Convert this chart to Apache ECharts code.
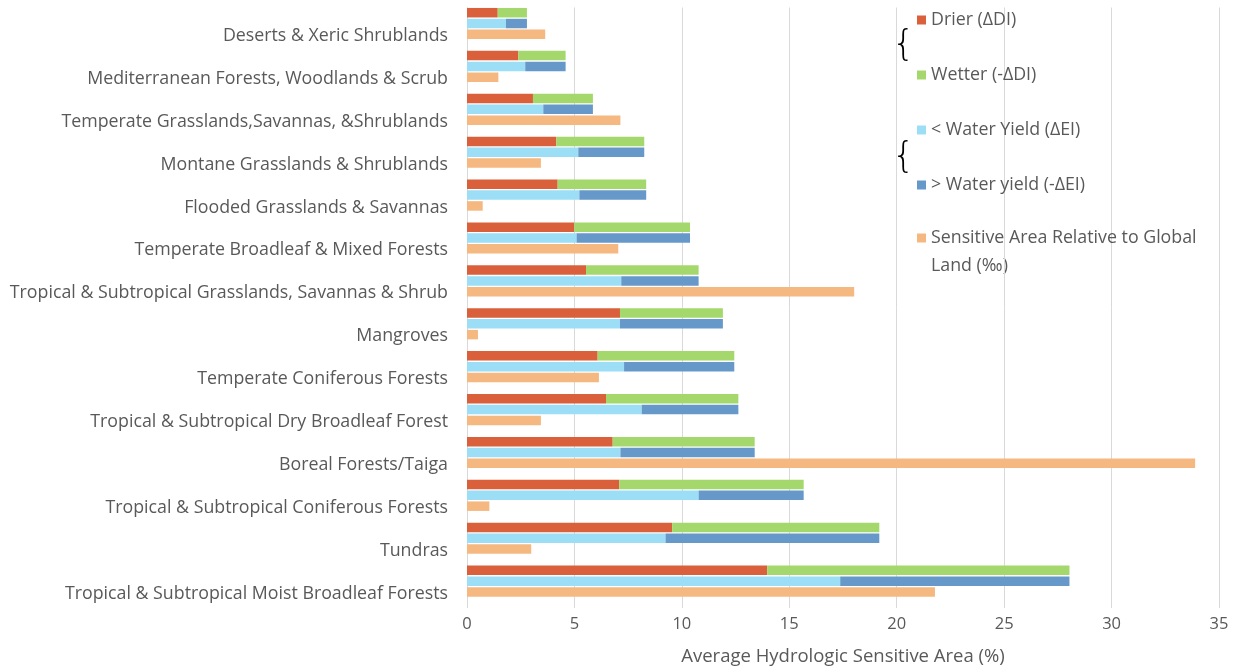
<!DOCTYPE html>
<html>
<head>
<meta charset="utf-8">
<script src="https://cdn.jsdelivr.net/npm/echarts@6/dist/echarts.min.js"></script>
<style>
html,body{margin:0;padding:0;background:#fff;}
#chart{width:1238px;height:671px;}
</style>
</head>
<body>
<div id="chart"></div>
<script>
const categories = [
  "Deserts & Xeric Shrublands",
  "Mediterranean Forests, Woodlands & Scrub",
  "Temperate Grasslands,Savannas, &Shrublands",
  "Montane Grasslands & Shrublands",
  "Flooded Grasslands & Savannas",
  "Temperate Broadleaf & Mixed Forests",
  "Tropical & Subtropical Grasslands, Savannas & Shrub",
  "Mangroves",
  "Temperate Coniferous Forests",
  "Tropical & Subtropical Dry Broadleaf Forest",
  "Boreal Forests/Taiga",
  "Tropical & Subtropical Coniferous Forests",
  "Tundras",
  "Tropical & Subtropical Moist Broadleaf Forests"
];
const drier      = [1.43, 2.39, 3.07, 4.16, 4.22, 4.99, 5.54, 7.12, 6.08, 6.47, 6.78, 7.09, 9.55, 13.97];
const wetter     = [1.36, 2.20, 2.79, 4.09, 4.12, 5.39, 5.24, 4.79, 6.36, 6.16, 6.61, 8.58, 9.64, 14.07];
const lessYield  = [1.81, 2.71, 3.55, 5.18, 5.23, 5.10, 7.18, 7.12, 7.31, 8.13, 7.14, 10.78, 9.24, 17.37];
const moreYield  = [0.98, 1.88, 2.31, 3.07, 3.11, 5.28, 3.60, 4.79, 5.13, 4.50, 6.25, 4.89, 9.95, 10.67];
const sensitive  = [3.64, 1.46, 7.14, 3.44, 0.73, 7.04, 18.02, 0.51, 6.14, 3.44, 33.89, 1.04, 2.99, 21.78];
const xTicks = [0, 5, 10, 15, 20, 25, 30, 35];

const names = {
  drier: "Drier (ΔDI)",
  wetter: "Wetter (-ΔDI)",
  less: "< Water Yield (ΔEI)",
  more: "> Water yield (-ΔEI)",
  sens: "Sensitive Area Relative to Global Land (‰)"
};
const sensLine1 = "Sensitive Area Relative to Global";
const sensLine2 = "Land (‰)";
const colors = {
  drier: "#D9603A",
  wetter: "#A4D86C",
  less: "#9DDEF7",
  more: "#6699CA",
  sens: "#F5B880"
};
const FONT = "Open Sans";
const TXT = "#595959";
const BW = 9.5;

function bar(name, data, stack, color) {
  return {
    name: name, type: "bar", stack: stack, data: data,
    barWidth: BW, barGap: "14%", clip: false,
    itemStyle: { color: color },
    emphasis: { disabled: true }
  };
}

const chart = echarts.init(document.getElementById("chart"), null, { renderer: "canvas" });
chart.setOption({
  animation: false,
  backgroundColor: "#ffffff",
  textStyle: { fontFamily: FONT },
  grid: { left: 467, right: 19, top: 7.5, bottom: 61.5, containLabel: false },
  xAxis: {
    type: "value", min: xTicks[0], max: xTicks[xTicks.length - 1], interval: 5,
    axisLine: { show: false }, axisTick: { show: false },
    axisLabel: { color: TXT, fontSize: 16.5, fontFamily: FONT, margin: 8 },
    splitLine: { show: true, lineStyle: { color: "#D9D9D9", width: 1 } },
    name: "Average Hydrologic Sensitive Area (%)",
    nameLocation: "middle", nameGap: 39,
    nameTextStyle: { color: TXT, fontSize: 18.5, fontFamily: FONT }
  },
  yAxis: {
    type: "category", inverse: true, data: categories,
    axisLine: { show: false }, axisTick: { show: false },
    axisLabel: { color: TXT, fontSize: 17.8, fontFamily: FONT, margin: 19, verticalAlign: "top", lineHeight: 14 }
  },
  legend: [
    {
      orient: "vertical", left: 917, top: 10, padding: 0,
      itemWidth: 9, itemHeight: 9, itemGap: 35, icon: "rect",
      selectedMode: false,
      data: [names.drier, names.wetter, names.less, names.more],
      textStyle: { color: TXT, fontSize: 17.8, fontFamily: FONT, lineHeight: 20 }
    },
    {
      orient: "vertical", left: 917, top: 228, padding: 0,
      itemWidth: 9, itemHeight: 9, icon: "rect",
      selectedMode: false,
      data: [names.sens],
      formatter: function () { return sensLine1; },
      textStyle: { color: TXT, fontSize: 17.8, fontFamily: FONT, lineHeight: 20 }
    }
  ],
  graphic: [
    { type: "text", left: 931, top: 256, style: { text: sensLine2, fontSize: 17.8, fontFamily: FONT, fill: TXT, lineHeight: 20 } },
    { type: "text", left: 892, top: 28, style: { text: "{", fontSize: 36, fontFamily: "DejaVu Sans", fontWeight: 200, fill: "#000" } },
    { type: "text", left: 892, top: 140, style: { text: "{", fontSize: 36, fontFamily: "DejaVu Sans", fontWeight: 200, fill: "#000" } }
  ],
  series: [
    bar(names.drier, drier, "a", colors.drier),
    bar(names.wetter, wetter, "a", colors.wetter),
    bar(names.less, lessYield, "b", colors.less),
    bar(names.more, moreYield, "b", colors.more),
    bar(names.sens, sensitive, "c", colors.sens),
    { name: "spacer", type: "bar", stack: "d", data: categories.map(function () { return null; }),
      barWidth: BW, barGap: "14%", itemStyle: { color: "transparent" }, silent: true }
  ]
});
</script>
</body>
</html>
